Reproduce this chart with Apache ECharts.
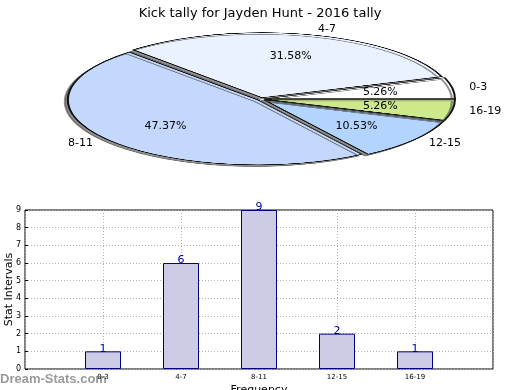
<!DOCTYPE html>
<html><head><meta charset="utf-8">
<script src="https://cdn.jsdelivr.net/npm/echarts@6/dist/echarts.min.js"></script>
<style>
html,body{margin:0;padding:0;background:#fff;}
#wrap{position:relative;width:520px;height:390px;overflow:hidden;background:#fff;}
#pie{position:absolute;left:0;top:-111px;width:520px;height:420px;transform-origin:261px 210px;transform:scaleY(0.3421);}
#main{position:absolute;left:0;top:0;width:520px;height:390px;}
</style></head><body>
<div id="wrap"><div id="pie"></div><div id="main"></div></div>
<script>
// ---- data ----
const titleText = 'Kick tally for Jayden Hunt - 2016 tally';
const categories = ['0-3', '4-7', '8-11', '12-15', '16-19'];
const counts = [1, 6, 9, 2, 1];
const pieColors = ['#ffffff', '#eaf2ff', '#c4d8fd', '#b3d4ff', '#cde98b'];
const yAxisName = 'Stat Intervals';
const xAxisName = 'Frequency';

const FONT = 'DejaVu Sans';
const CX = 261, CY = 99, R = 190, SQ = 0.3421, EXPLODE = 4;

// ---- pie slices (circle, squashed vertically by CSS) ----
const pieChart = echarts.init(document.getElementById('pie'), null, {renderer: 'canvas'});
pieChart.setOption({
  animation: false,
  series: [{
    type: 'pie',
    center: [CX, 210],
    radius: R,
    startAngle: 0,
    clockwise: false,
    selectedMode: 'multiple',
    selectedOffset: EXPLODE,
    label: {show: false},
    labelLine: {show: false},
    emphasis: {disabled: true},
    itemStyle: {
      borderColor: '#111',
      borderWidth: 2.1,
      shadowColor: 'rgba(70,70,70,0.6)',
      shadowBlur: 0,
      shadowOffsetX: -3,
      shadowOffsetY: 5
    },
    data: categories.map((c, i) => ({name: c, value: counts[i], selected: true, itemStyle: {color: pieColors[i]}}))
  }]
});

// ---- main chart: labels, title, bars ----
function squash(params) {
  const c = params.labelRect.y + params.labelRect.height / 2;
  return {dy: (CY + (c - CY) * SQ) - c};
}
const xCats = [''].concat(categories, ['']);
const barData = [null].concat(counts, [null]);

const main = echarts.init(document.getElementById('main'), null, {renderer: 'canvas'});
const labelPieBase = {
  type: 'pie',
  center: [CX, CY],
  startAngle: 0,
  clockwise: false,
  selectedMode: 'multiple',
  selectedOffset: EXPLODE,
  avoidLabelOverlap: false,
  silent: true,
  emphasis: {disabled: true},
  itemStyle: {color: 'rgba(0,0,0,0)', borderWidth: 0},
  labelLayout: squash,
  data: categories.map((c, i) => ({name: c, value: counts[i], selected: true}))
};
main.setOption({
  animation: false,
  textStyle: {fontFamily: FONT},
  title: {
    text: titleText, left: 'center', top: 2,
    textStyle: {fontFamily: FONT, fontSize: 13, fontWeight: 'normal', color: '#000'}
  },
  graphic: [{
    type: 'text', left: 0, top: 373,
    style: {text: 'Dream-Stats.com', font: 'bold 13px "Liberation Sans"', fill: '#9a9a9a'}
  }],
  grid: {left: 25, right: 27, top: 210, bottom: 21, outerBoundsMode: 'none', containLabel: false,
         show: true, borderColor: '#000', borderWidth: 1, backgroundColor: 'transparent'},
  xAxis: {
    type: 'category', boundaryGap: false, data: xCats,
    name: xAxisName, nameLocation: 'middle', nameGap: 16, nameMoveOverlap: false,
    nameTextStyle: {fontFamily: FONT, fontSize: 11, color: '#000'},
    axisLine: {show: false}, axisTick: {show: false},
    axisLabel: {fontFamily: FONT, fontSize: 7, color: '#000', margin: 5, interval: 0},
    splitLine: {show: true, lineStyle: {type: [1, 2], color: '#b0b0b0'}}
  },
  yAxis: {
    type: 'value', min: 0, max: 9, interval: 1,
    name: yAxisName, nameLocation: 'middle', nameGap: 10, nameMoveOverlap: false,
    nameTextStyle: {fontFamily: FONT, fontSize: 11, color: '#000'},
    axisLine: {show: false},
    axisTick: {show: true, inside: true, length: 3, lineStyle: {color: '#000'}},
    axisLabel: {fontFamily: FONT, fontSize: 8, color: '#000', margin: 4},
    splitLine: {show: true, lineStyle: {type: [1, 2], color: '#b0b0b0'}}
  },
  series: [
    Object.assign({}, labelPieBase, {
      radius: [38, R],
      label: {show: true, position: 'inside', formatter: '{d}%', fontFamily: FONT, fontSize: 11, color: '#000'},
      labelLine: {show: false}
    }),
    Object.assign({}, labelPieBase, {
      radius: R,
      label: {show: true, position: 'outside', formatter: '{b}', fontFamily: FONT, fontSize: 11, color: '#000'},
      labelLine: {show: false, length: 10, length2: 2}
    }),
    {
      type: 'bar', data: barData, barWidth: 36,
      itemStyle: {color: '#ccccе6'.replace('е','e'), borderColor: '#000080', borderWidth: 1},
      label: {show: true, position: 'top', distance: -3, fontFamily: FONT, fontSize: 11, color: '#0000a0'}
    }
  ]
});
</script>
</body></html>
